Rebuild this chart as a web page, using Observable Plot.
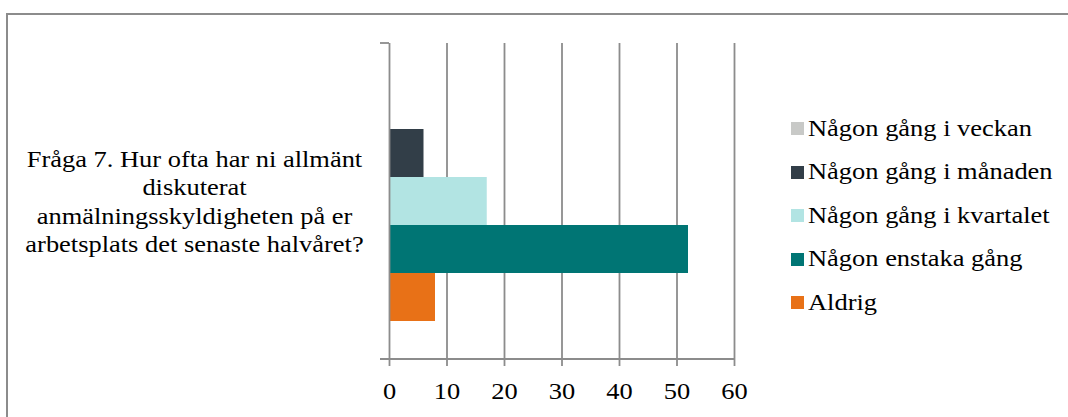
<!DOCTYPE html>
<html>
<head>
<meta charset="utf-8">
<script src="https://cdn.jsdelivr.net/npm/d3@7"></script>
<script src="https://cdn.jsdelivr.net/npm/@observablehq/plot@0.6"></script>
<style>
  html, body { margin: 0; padding: 0; background: #fff; overflow: hidden; }
  #chart { position: relative; width: 1068px; height: 417px; font-family: "Liberation Serif", "Times New Roman", serif; }
  #border { position: absolute; left: 6px; top: 13px; width: 1100px; height: 500px; box-sizing: border-box;
            border-top: 2px solid #8c8c8c; border-left: 2px solid #8c8c8c; }
  #chart svg { position: absolute; left: 0; top: 0; }
  #legend { position: absolute; left: 791px; top: 107px; }
  .item { display: flex; align-items: center; height: 43.5px; font-size: 23px; color: #000; white-space: nowrap; }
  .sw { width: 13px; height: 13px; margin-right: 4px; flex: none; }
  .lbl { display: inline-block; transform: scaleX(1.15); transform-origin: left center; }
</style>
</head>
<body>
<div id="chart"><div id="border"></div></div>
<script>
// Survey question (category) and answer frequencies
const category = "Fråga 7. Hur ofta har ni allmänt\ndiskuterat\nanmälningsskyldigheten på er\narbetsplats det senaste halvåret?";
const series = ["Någon gång i veckan", "Någon gång i månaden", "Någon gång i kvartalet", "Någon enstaka gång", "Aldrig"];
const values = [0, 6, 17, 52, 8];
const colors = ["#c8c9c7", "#323e48", "#b2e4e3", "#007574", "#e87117"];
const xTicks = [0, 10, 20, 30, 40, 50, 60];

const data = series.map((s, i) => ({ category, series: s, value: values[i] }));

const W = 1068, H = 417;
const mTop = 43, mBottom = 58, mLeft = 389, mRight = 334;
const lineColor = "#8c8c8c";
const fontSize = 23;
const stretch = 1.15; // wide set type

const plot = Plot.plot({
  width: W,
  height: H,
  marginTop: mTop,
  marginBottom: mBottom,
  marginLeft: mLeft,
  marginRight: mRight,
  style: { fontFamily: "'Liberation Serif', 'Times New Roman', serif", fontSize: fontSize + "px", background: "transparent", overflow: "visible", color: "#000" },
  x: { domain: [0, 60] },
  y: { domain: series, paddingInner: 0, paddingOuter: 0.745, axis: null },
  color: { domain: series, range: colors },
  marks: [
    Plot.gridX(xTicks.filter(d => d > 0), { stroke: lineColor, strokeOpacity: 1, strokeWidth: 1.8 }),
    Plot.barX(data, { x: "value", y: "series", fill: "series" }),
    Plot.ruleX([0], { stroke: lineColor, strokeWidth: 1.8 }),
    Plot.axisX(xTicks, { tickSize: 7, tickPadding: 16, stroke: lineColor, strokeWidth: 1.8, fill: "#000", fontSize, label: null }),
    Plot.text([category], { text: d => d, frameAnchor: "left", dx: -195, dy: -1, textAnchor: "middle", lineAnchor: "middle", lineHeight: 1.24, fontSize, fill: "#000" })
  ]
});

// Category axis: baseline plus tick marks at the band edges
const x = plot.scale("x");
const svg = d3.select(plot);
const x0 = x.apply(0), x1 = x.apply(60);
const yTop = mTop, yBot = H - mBottom;
const g = svg.append("g").attr("stroke", lineColor).attr("stroke-width", 1.8);
g.append("line").attr("x1", x0 - 9).attr("x2", x1).attr("y1", yBot).attr("y2", yBot);
g.append("line").attr("x1", x0 - 9).attr("x2", x0).attr("y1", yTop).attr("y2", yTop);

// Widen the type horizontally around each label's own anchor
svg.selectAll("text").each(function () {
  const t = d3.select(this);
  const ax = +(t.attr("x") || 0);
  const tr = t.attr("transform") || "";
  t.attr("transform", `${tr} translate(${ax},0) scale(${stretch},1) translate(${-ax},0)`);
});

document.getElementById("chart").appendChild(plot);

// Legend
const legend = d3.select("#chart").append("div").attr("id", "legend");
const items = legend.selectAll(".item").data(series).join("div").attr("class", "item");
items.append("span").attr("class", "sw").style("background", (d, i) => colors[i]);
items.append("span").attr("class", "lbl").text(d => d);
</script>
</body>
</html>
